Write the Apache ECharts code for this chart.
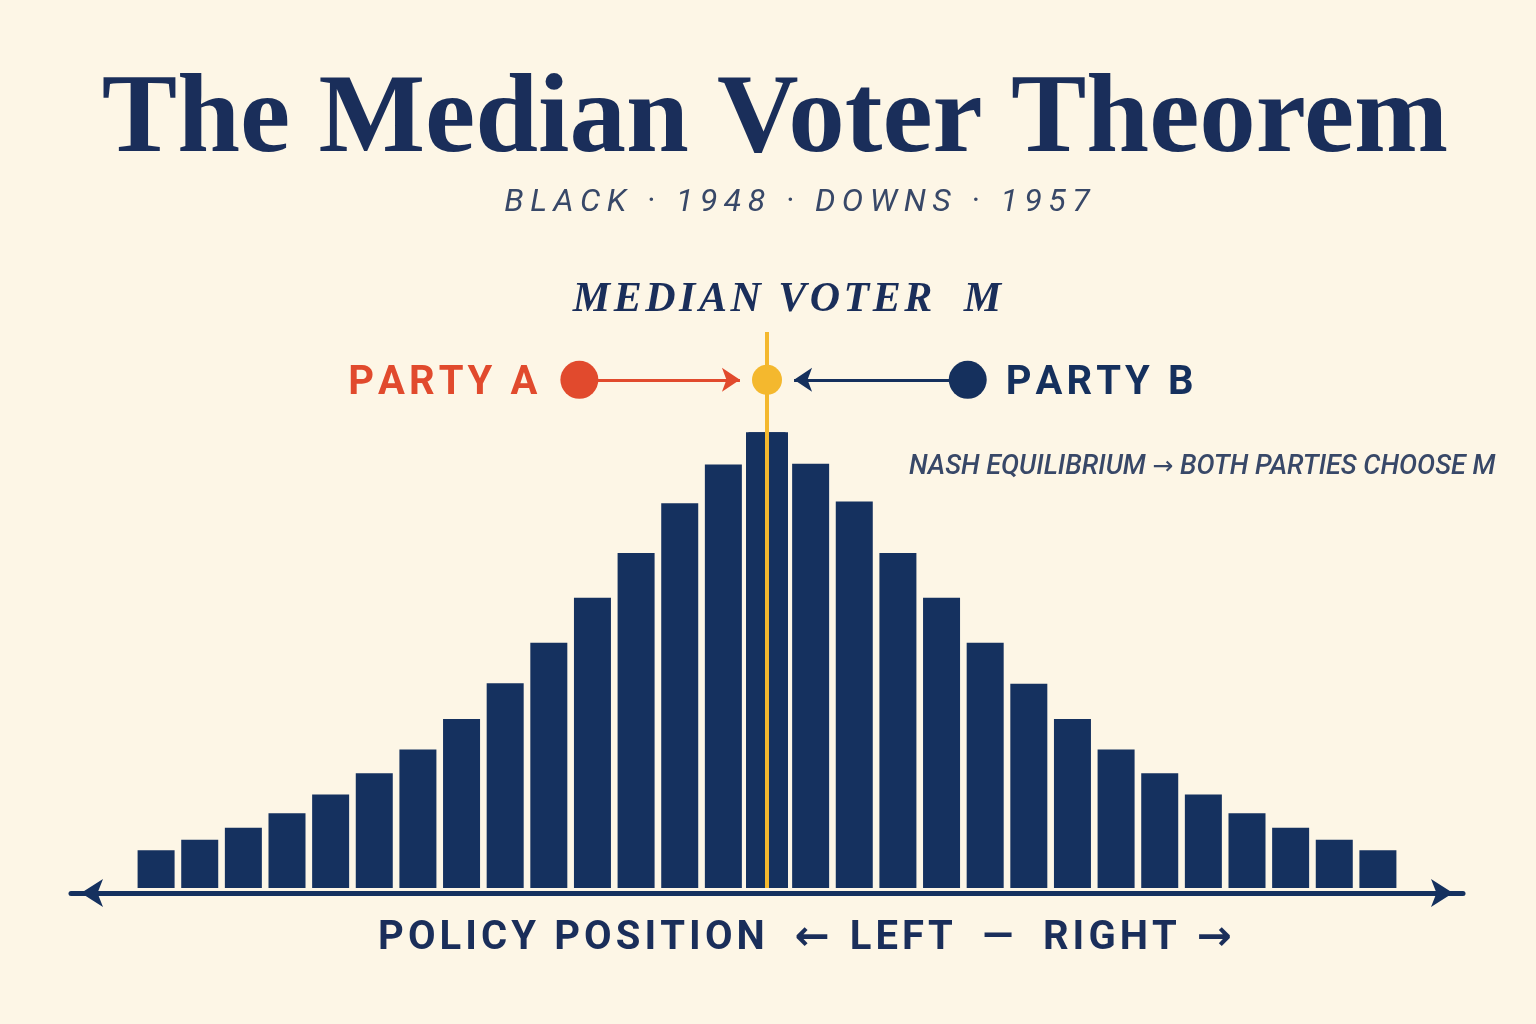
<!DOCTYPE html>
<html>
<head>
<meta charset="utf-8">
<title>The Median Voter Theorem</title>
<script src="https://cdn.jsdelivr.net/npm/echarts@6/dist/echarts.min.js"></script>
<style>
  html, body { margin: 0; padding: 0; background: #fdf6e6; }
  #chart { width: 1536px; height: 1024px; }
</style>
</head>
<body>
<div id="chart"></div>
<script>
// policy positions, left (-14) to right (+14)
const positions = [-14, -13, -12, -11, -10, -9, -8, -7, -6, -5, -4, -3, -2, -1, 0,
    1, 2, 3, 4, 5, 6, 7, 8, 9, 10, 11, 12, 13, 14]
// share of voters at each position (peak = 100)
const voterShare = [8.3, 10.6, 13.2, 16.4, 20.5, 25.2, 30.4, 37.1, 44.9, 53.8, 63.7, 73.5, 84.4, 92.9, 100,
    93.1, 84.8, 73.5, 63.7, 53.8, 44.8, 37.1, 30.4, 25.2, 20.5, 16.4, 13.2, 10.6, 8.3]

const medianPosition = 0
const partyNames = ['PARTY A', 'PARTY B']
const partyPositions = [-4.3, 4.6]
const partyColors = ['#e14a2d', '#15305d']
const platformLevel = 111.5   // height on the share scale where the platforms sit
const arrowGap = 0.62         // how far the arrow heads stop short of M

const navy = '#15315f'
const yellow = '#f4b82e'
const ink = '#384868'

const track = (s, gap) => s.split('').join(gap)
const HAIR = '\u200A'
const THIN = '\u2009'

const chart = echarts.init(document.getElementById('chart'))
const medianIdx = positions.indexOf(medianPosition)

let option = {
    backgroundColor: '#fdf6e6',
    animation: false,
    grid: { left: 71, right: 73, top: 332, bottom: 136 },
    xAxis: [
        {
            type: 'value',
            min: -15.95,
            max: 15.95,
            offset: 5,
            axisLine: {
                show: true,
                onZero: false,
                symbol: ['arrow', 'arrow'],
                symbolSize: [21, 22],
                symbolOffset: [10, -10],
                lineStyle: { color: navy, width: 5 }
            },
            axisTick: { show: false },
            axisLabel: { show: false },
            splitLine: { show: false }
        },
        { type: 'value', min: -15.95, max: 15.95, show: false }
    ],
    yAxis: {
        type: 'value',
        min: 0,
        max: 122,
        show: false
    },
    series: []
}

option.series.push({
    name: 'Voters',
    type: 'bar',
    barWidth: 37,
    itemStyle: { color: navy },
    data: positions.map((p, i) => [p, voterShare[i]]),
    z: 2
})

// the median bar is drawn a little wider
option.series.push({
    name: 'Median',
    type: 'bar',
    xAxisIndex: 1,
    barWidth: 42,
    itemStyle: { color: navy },
    data: [[medianPosition, voterShare[medianIdx]]],
    z: 2
})

// both parties move toward the median voter
option.series.push({
    name: 'Moves',
    type: 'lines',
    coordinateSystem: 'cartesian2d',
    symbol: ['none', 'arrow'],
    symbolSize: 18,
    z: 3,
    data: partyPositions.map((p, i) => {
        let dir = p < medianPosition ? -1 : 1
        return {
            coords: [[p, platformLevel], [medianPosition + dir * arrowGap, platformLevel]],
            lineStyle: { color: partyColors[i], width: 3, opacity: 1 }
        }
    })
})

option.series.push({
    name: 'Median voter',
    type: 'scatter',
    symbolSize: 30,
    itemStyle: { color: yellow, opacity: 1 },
    z: 6,
    data: [[medianPosition, platformLevel]],
    markLine: {
        silent: true,
        symbol: 'none',
        label: { show: false },
        lineStyle: { color: yellow, width: 4, type: 'solid', opacity: 1 },
        data: [{ xAxis: medianPosition }],
        z: 5
    }
})

option.series.push({
    name: 'Parties',
    type: 'scatter',
    symbolSize: 38,
    z: 7,
    data: partyPositions.map((p, i) => ({
        name: partyNames[i],
        value: [p, platformLevel],
        itemStyle: { color: partyColors[i], opacity: 1 },
        label: {
            show: true,
            position: p < medianPosition ? 'left' : 'right',
            distance: p < medianPosition ? 23 : 19,
            offset: [0, 4],
            color: partyColors[i],
            fontFamily: 'Roboto',
            fontWeight: 'bold',
            fontSize: 40,
            formatter: (param) => track(param.name, HAIR)
        }
    }))
})

const arrowFont = { fontFamily: '"DejaVu Sans"', fontWeight: 'bold' }

option.graphic = [
    {
        type: 'text', x: 775, y: 122,
        style: {
            text: 'The Median Voter Theorem',
            fontFamily: '"Liberation Serif", serif', fontWeight: 'bold', fontSize: 113,
            fill: '#1a2e5a', textAlign: 'center', textVerticalAlign: 'middle'
        }
    },
    {
        type: 'text', x: 797, y: 203,
        style: {
            text: track('BLACK · 1948 · DOWNS · 1957', THIN),
            fontFamily: 'Roboto', fontStyle: 'italic', fontSize: 32,
            fill: ink, textAlign: 'center', textVerticalAlign: 'middle'
        }
    },
    {
        type: 'text', x: 787, y: 300,
        style: {
            text: track('MEDIAN VOTER  M', HAIR),
            fontFamily: '"Liberation Serif", serif', fontStyle: 'italic', fontWeight: 'bold', fontSize: 42,
            fill: '#1a2e5a', textAlign: 'center', textVerticalAlign: 'middle'
        }
    },
    {
        type: 'text', x: 909, y: 467,
        style: {
            text: 'NASH EQUILIBRIUM {a|→} BOTH PARTIES CHOOSE M',
            fontFamily: 'Roboto', fontStyle: 'italic', fontWeight: 500, fontSize: 27,
            fill: ink, textAlign: 'left', textVerticalAlign: 'middle',
            rich: { a: { fontFamily: '"DejaVu Sans"', fontSize: 25, fill: ink } }
        }
    },
    {
        type: 'text', x: 805, y: 939,
        style: {
            text: track('POLICY POSITION', HAIR) + '   {a|←}  ' + track('LEFT', HAIR) + '   —   '
                + track('RIGHT', HAIR) + '  {a|→}',
            fontFamily: 'Roboto', fontWeight: 'bold', fontSize: 40,
            fill: '#1a2e5a', textAlign: 'center', textVerticalAlign: 'middle',
            rich: { a: Object.assign({ fontSize: 42, fill: '#1a2e5a' }, arrowFont) }
        }
    }
]

chart.setOption(option)
</script>
</body>
</html>
